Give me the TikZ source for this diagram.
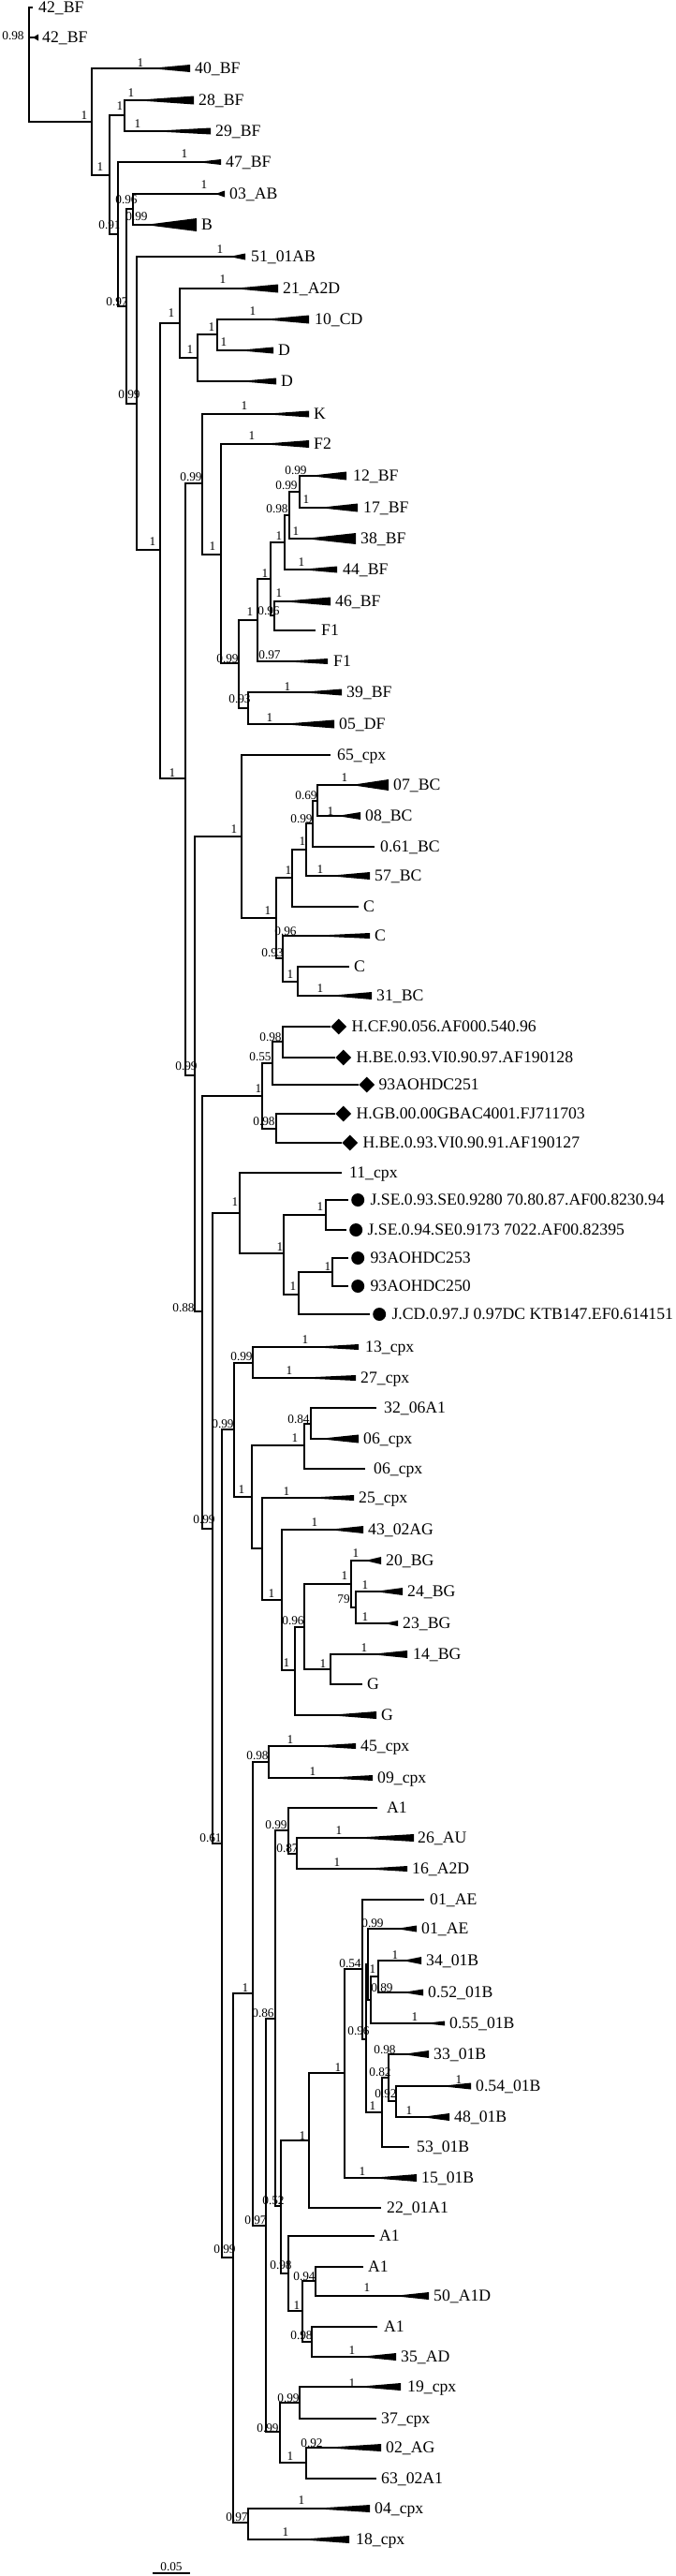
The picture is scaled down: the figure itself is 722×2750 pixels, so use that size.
\documentclass[tikz,border=0pt]{standalone}
\usepackage{fontspec}
\setmainfont{Liberation Serif}
\usetikzlibrary{positioning,shapes.geometric}
\tikzset{
  br/.style    ={line width=1.5pt},
  taxon/.style ={font=\fontsize{17.7}{18}\selectfont, inner sep=0pt,
                 text height=11.7pt, text depth=0pt},
  supp/.style  ={font=\fontsize{13.3}{14}\selectfont, inner sep=0pt,
                 text height=8.8pt, text depth=0pt},
  dmark/.style ={diamond, fill=black, inner sep=0pt,
                 minimum width=17pt, minimum height=17pt},
  cmark/.style ={circle, fill=black, inner sep=0pt, minimum size=14pt},
  pics/clade/.style 2 args={code={\fill (-#1,0) -- (0,-#2) -- (0,#2) -- cycle;}},
}

\begin{document}
\begin{tikzpicture}[x=1pt,y=-1pt,node distance=5pt]
  \useasboundingbox (0,0) rectangle (722,2750);
  %% internal nodes
  \coordinate (r)     at (31,69);
  \coordinate (n98)   at (98,130);
  \coordinate (n117)  at (117,187);
  \coordinate (n133)  at (133,123);
  \coordinate (n126)  at (126,250);
  \coordinate (n135)  at (135,327);
  \coordinate (n142)  at (142,223);
  \coordinate (n146)  at (146,431);
  \coordinate (n171)  at (171,587);
  \coordinate (n192)  at (192,345);
  \coordinate (n211)  at (211,382);
  \coordinate (n232)  at (232,357);
  \coordinate (n198)  at (198,831);
  \coordinate (n216)  at (216,516);
  \coordinate (n236)  at (236,592);
  \coordinate (n255)  at (255,708);
  \coordinate (n275)  at (275,662);
  \coordinate (n289)  at (289,618);
  \coordinate (n304)  at (304,579);
  \coordinate (n309)  at (309,550);
  \coordinate (n320)  at (320,525);
  \coordinate (n293)  at (293,657);
  \coordinate (n265)  at (265,756);
  \coordinate (n208)  at (208,1148);
  \coordinate (n258)  at (258,893);
  \coordinate (n295)  at (295,980);
  \coordinate (n312)  at (312,937);
  \coordinate (n327)  at (327,907);
  \coordinate (n334)  at (334,879);
  \coordinate (n339)  at (339,855);
  \coordinate (n302)  at (302,1023);
  \coordinate (n318)  at (318,1048);
  \coordinate (n215)  at (216,1400);
  \coordinate (n280)  at (280,1170);
  \coordinate (n291)  at (291,1135);
  \coordinate (n302b) at (302,1112);
  \coordinate (n295b) at (295,1205);
  \coordinate (n227)  at (227,1632);
  \coordinate (n256)  at (256,1295);
  \coordinate (n303)  at (303,1338);
  \coordinate (n348)  at (348,1297);
  \coordinate (n319)  at (319,1382);
  \coordinate (n355)  at (355,1358);
  \coordinate (n237)  at (237,1968);
  \coordinate (n250)  at (250,1526);
  \coordinate (n270)  at (270,1455);
  \coordinate (n269)  at (269,1598);
  \coordinate (n325)  at (325,1543);
  \coordinate (n332)  at (332,1520);
  \coordinate (n280c) at (280,1653);
  \coordinate (n301)  at (301,1708);
  \coordinate (n315)  at (315,1783);
  \coordinate (n325b) at (325,1737);
  \coordinate (n375)  at (375,1691);
  \coordinate (n380)  at (380,1716);
  \coordinate (n353)  at (353,1782);
  \coordinate (n249)  at (249,2410);
  \coordinate (n270b) at (270,2128);
  \coordinate (n287)  at (287,1881);
  \coordinate (n284)  at (284,2376);
  \coordinate (n294)  at (294,2155);
  \coordinate (n308)  at (308,1954);
  \coordinate (n317)  at (317,1979);
  \coordinate (n300)  at (300,2355);
  \coordinate (n330)  at (330,2285);
  \coordinate (n368)  at (368,2213);
  \coordinate (n387)  at (387,2102);
  \coordinate (n391)  at (391,2177);
  \coordinate (n393)  at (393,2097);
  \coordinate (n396)  at (396,2135);
  \coordinate (n404)  at (404,2110);
  \coordinate (n408)  at (408,2255);
  \coordinate (n415)  at (415,2218);
  \coordinate (n423)  at (423,2243);
  \coordinate (n308b) at (308,2427);
  \coordinate (n323)  at (323,2467);
  \coordinate (n337)  at (337,2435);
  \coordinate (n333)  at (333,2500);
  \coordinate (n299)  at (299,2596);
  \coordinate (n320c) at (320,2565);
  \coordinate (n327c) at (327,2629);
  \coordinate (n265c) at (265,2693);

  %% tips
  \coordinate (t1)  at (35,8);
  \coordinate (t2)  at (41,40);
  \coordinate (t3)  at (203,73);
  \coordinate (t4)  at (207,107);
  \coordinate (t5)  at (225,140);
  \coordinate (t6)  at (236,173);
  \coordinate (t7)  at (240,207);
  \coordinate (t8)  at (210,240);
  \coordinate (t9)  at (262,274);
  \coordinate (t10) at (297,308);
  \coordinate (t11) at (330,341);
  \coordinate (t12) at (292,374);
  \coordinate (t13) at (295,407);
  \coordinate (t14) at (330,442);
  \coordinate (t15) at (330,474);
  \coordinate (t16) at (370,508);
  \coordinate (t17) at (382,542);
  \coordinate (t18) at (380,575);
  \coordinate (t19) at (360,608);
  \coordinate (t20) at (353,642);
  \coordinate (t21) at (337,673);
  \coordinate (t22) at (350,706);
  \coordinate (t23) at (365,739);
  \coordinate (t24) at (357,773);
  \coordinate (t25) at (353,806);
  \coordinate (t26) at (415,838);
  \coordinate (t27) at (385,871);
  \coordinate (t28) at (400,904);
  \coordinate (t29) at (395,935);
  \coordinate (t30) at (383,968);
  \coordinate (t31) at (395,999);
  \coordinate (t32) at (373,1032);
  \coordinate (t33) at (397,1063);
  \coordinate (t34) at (353,1096);
  \coordinate (t35) at (358,1129);
  \coordinate (t36) at (383,1158);
  \coordinate (t37) at (358,1189);
  \coordinate (t38) at (365,1220);
  \coordinate (t39) at (365,1252);
  \coordinate (t40) at (372,1281);
  \coordinate (t41) at (370,1313);
  \coordinate (t42) at (372,1343);
  \coordinate (t43) at (372,1373);
  \coordinate (t44) at (395,1403);
  \coordinate (t45) at (383,1438);
  \coordinate (t46) at (380,1471);
  \coordinate (t47) at (402,1503);
  \coordinate (t48) at (383,1536);
  \coordinate (t49) at (390,1568);
  \coordinate (t50) at (378,1599);
  \coordinate (t51) at (388,1633);
  \coordinate (t52) at (407,1666);
  \coordinate (t53) at (430,1699);
  \coordinate (t54) at (425,1733);
  \coordinate (t55) at (435,1766);
  \coordinate (t56) at (387,1798);
  \coordinate (t57) at (402,1831);
  \coordinate (t58) at (380,1864);
  \coordinate (t59) at (398,1898);
  \coordinate (t60) at (403,1930);
  \coordinate (t61) at (442,1962);
  \coordinate (t62) at (435,1995);
  \coordinate (t63) at (453,2028);
  \coordinate (t64) at (445,2059);
  \coordinate (t65) at (450,2093);
  \coordinate (t66) at (452,2127);
  \coordinate (t67) at (475,2160);
  \coordinate (t68) at (458,2193);
  \coordinate (t69) at (503,2227);
  \coordinate (t70) at (480,2260);
  \coordinate (t71) at (437,2292);
  \coordinate (t72) at (445,2325);
  \coordinate (t73) at (407,2357);
  \coordinate (t74) at (400,2387);
  \coordinate (t75) at (388,2420);
  \coordinate (t76) at (458,2451);
  \coordinate (t77) at (403,2484);
  \coordinate (t78) at (423,2516);
  \coordinate (t79) at (428,2548);
  \coordinate (t80) at (402,2582);
  \coordinate (t81) at (407,2613);
  \coordinate (t82) at (402,2646);
  \coordinate (t83) at (395,2678);
  \coordinate (t84) at (373,2711);

  %% branches
  \draw[br] (r) |- (t1) (r) |- (t2) (r) |- (n98);
  \draw[br] (n98) |- (t3) (n98) |- (n117);
  \draw[br] (n117) |- (n133) (n117) |- (n126);
  \draw[br] (n133) |- (t4) (n133) |- (t5);
  \draw[br] (n126) |- (t6) (n126) |- (n135);
  \draw[br] (n135) |- (n142) (n135) |- (n146);
  \draw[br] (n142) |- (t7) (n142) |- (t8);
  \draw[br] (n146) |- (t9) (n146) |- (n171);
  \draw[br] (n171) |- (n192) (n171) |- (n198);
  \draw[br] (n192) |- (t10) (n192) |- (n211);
  \draw[br] (n211) |- (n232) (n211) |- (t13);
  \draw[br] (n232) |- (t11) (n232) |- (t12);
  \draw[br] (n198) |- (n216) (n198) |- (n208);
  \draw[br] (n216) |- (t14) (n216) |- (n236);
  \draw[br] (n236) |- (t15) (n236) |- (n255);
  \draw[br] (n255) |- (n275) (n255) |- (n265);
  \draw[br] (n275) |- (n289) (n275) |- (t22);
  \draw[br] (n289) |- (n304) (n289) |- (n293);
  \draw[br] (n304) |- (n309) (n304) |- (t19);
  \draw[br] (n309) |- (n320) (n309) |- (t18);
  \draw[br] (n320) |- (t16) (n320) |- (t17);
  \draw[br] (n293) |- (t20) (n293) |- (t21);
  \draw[br] (n265) |- (t23) (n265) |- (t24);
  \draw[br] (n208) |- (n258) (n208) |- (n215);
  \draw[br] (n258) |- (t25) (n258) |- (n295);
  \draw[br] (n295) |- (n312) (n295) |- (n302);
  \draw[br] (n312) |- (n327) (n312) |- (t30);
  \draw[br] (n327) |- (n334) (n327) |- (t29);
  \draw[br] (n334) |- (n339) (n334) |- (t28);
  \draw[br] (n339) |- (t26) (n339) |- (t27);
  \draw[br] (n302) |- (t31) (n302) |- (n318);
  \draw[br] (n318) |- (t32) (n318) |- (t33);
  \draw[br] (n215) |- (n280) (n215) |- (n227);
  \draw[br] (n280) |- (n291) (n280) |- (n295b);
  \draw[br] (n291) |- (n302b) (n291) |- (t36);
  \draw[br] (n302b) |- (t34) (n302b) |- (t35);
  \draw[br] (n295b) |- (t37) (n295b) |- (t38);
  \draw[br] (n227) |- (n256) (n227) |- (n237);
  \draw[br] (n256) |- (t39) (n256) |- (n303);
  \draw[br] (n303) |- (n348) (n303) |- (n319);
  \draw[br] (n348) |- (t40) (n348) |- (t41);
  \draw[br] (n319) |- (n355) (n319) |- (t44);
  \draw[br] (n355) |- (t42) (n355) |- (t43);
  \draw[br] (n237) |- (n250) (n237) |- (n249);
  \draw[br] (n250) |- (n270) (n250) |- (n269);
  \draw[br] (n270) |- (t45) (n270) |- (t46);
  \draw[br] (n269) |- (n325) (n269) |- (n280c);
  \draw[br] (n325) |- (n332) (n325) |- (t49);
  \draw[br] (n332) |- (t47) (n332) |- (t48);
  \draw[br] (n280c) |- (t50) (n280c) |- (n301);
  \draw[br] (n301) |- (t51) (n301) |- (n315);
  \draw[br] (n315) |- (n325b) (n315) |- (t57);
  \draw[br] (n325b) |- (n375) (n325b) |- (n353);
  \draw[br] (n375) |- (t52) (n375) |- (n380);
  \draw[br] (n380) |- (t53) (n380) |- (t54);
  \draw[br] (n353) |- (t55) (n353) |- (t56);
  \draw[br] (n249) |- (n270b) (n249) |- (n265c);
  \draw[br] (n270b) |- (n287) (n270b) |- (n284);
  \draw[br] (n287) |- (t58) (n287) |- (t59);
  \draw[br] (n284) |- (n294) (n284) |- (n299);
  \draw[br] (n294) |- (n308) (n294) |- (n300);
  \draw[br] (n308) |- (t60) (n308) |- (n317);
  \draw[br] (n317) |- (t61) (n317) |- (t62);
  \draw[br] (n300) |- (n330) (n300) |- (n308b);
  \draw[br] (n330) |- (n368) (n330) |- (t73);
  \draw[br] (n368) |- (n387) (n368) |- (t72);
  \draw[br] (n387) |- (t63) (n387) |- (n391);
  \draw[br] (n391) |- (n393) (n391) |- (n408);
  \draw[br] (n393) |- (t64) (n393) |- (n396);
  \draw[br] (n396) |- (n404) (n396) |- (t67);
  \draw[br] (n404) |- (t65) (n404) |- (t66);
  \draw[br] (n408) |- (n415) (n408) |- (t71);
  \draw[br] (n415) |- (t68) (n415) |- (n423);
  \draw[br] (n423) |- (t69) (n423) |- (t70);
  \draw[br] (n308b) |- (t74) (n308b) |- (n323);
  \draw[br] (n323) |- (n337) (n323) |- (n333);
  \draw[br] (n337) |- (t75) (n337) |- (t76);
  \draw[br] (n333) |- (t77) (n333) |- (t78);
  \draw[br] (n299) |- (n320c) (n299) |- (n327c);
  \draw[br] (n320c) |- (t79) (n320c) |- (t80);
  \draw[br] (n327c) |- (t81) (n327c) |- (t82);
  \draw[br] (n265c) |- (t83) (n265c) |- (t84);

  %% collapsed clades
  \pic at (t2)  {clade={6}{3.5}};
  \pic at (t3)  {clade={43}{4}};
  \pic at (t4)  {clade={64}{4.5}};
  \pic at (t5)  {clade={65}{3.5}};
  \pic at (t6)  {clade={26}{3}};
  \pic at (t7)  {clade={10}{3.5}};
  \pic at (t8)  {clade={55}{7}};
  \pic at (t9)  {clade={17}{3.5}};
  \pic at (t10) {clade={49}{4.5}};
  \pic at (t11) {clade={50}{4.5}};
  \pic at (t12) {clade={39}{3.5}};
  \pic at (t13) {clade={40}{3.5}};
  \pic at (t14) {clade={50}{3.5}};
  \pic at (t15) {clade={52}{4}};
  \pic at (t16) {clade={40}{4.5}};
  \pic at (t17) {clade={42}{4.5}};
  \pic at (t18) {clade={55}{6}};
  \pic at (t19) {clade={40}{3.5}};
  \pic at (t20) {clade={53}{4.5}};
  \pic at (t22) {clade={50}{3}};
  \pic at (t23) {clade={45}{3.5}};
  \pic at (t24) {clade={57}{4.5}};
  \pic at (t26) {clade={40}{6}};
  \pic at (t27) {clade={25}{4}};
  \pic at (t29) {clade={45}{4}};
  \pic at (t31) {clade={65}{3}};
  \pic at (t33) {clade={47}{4}};
  \pic at (t45) {clade={53}{3}};
  \pic at (t46) {clade={65}{3}};
  \pic at (t48) {clade={43}{4.5}};
  \pic at (t50) {clade={53}{3}};
  \pic at (t51) {clade={38}{4}};
  \pic at (t52) {clade={17}{4}};
  \pic at (t53) {clade={30}{4}};
  \pic at (t54) {clade={15}{3}};
  \pic at (t55) {clade={40}{4}};
  \pic at (t57) {clade={52}{4}};
  \pic at (t58) {clade={50}{3}};
  \pic at (t59) {clade={53}{3}};
  \pic at (t61) {clade={67}{4}};
  \pic at (t62) {clade={50}{3}};
  \pic at (t64) {clade={22}{3.5}};
  \pic at (t65) {clade={20}{4}};
  \pic at (t66) {clade={22}{3.5}};
  \pic at (t67) {clade={22}{2.5}};
  \pic at (t68) {clade={28}{4}};
  \pic at (t69) {clade={33}{3.5}};
  \pic at (t70) {clade={30}{4}};
  \pic at (t72) {clade={50}{4}};
  \pic at (t76) {clade={38}{4}};
  \pic at (t78) {clade={40}{4}};
  \pic at (t79) {clade={48}{4}};
  \pic at (t81) {clade={62}{4}};
  \pic at (t83) {clade={62}{4}};
  \pic at (t84) {clade={55}{4}};

  %% reference strains
  \node[dmark, right=0pt of t34] (m34) {};
  \node[dmark, right=0pt of t35] (m35) {};
  \node[dmark, right=0pt of t36] (m36) {};
  \node[dmark, right=0pt of t37] (m37) {};
  \node[dmark, right=0pt of t38] (m38) {};
  \node[cmark, right=3pt of t40] (m40) {};
  \node[cmark, right=3pt of t41] (m41) {};
  \node[cmark, right=3pt of t42] (m42) {};
  \node[cmark, right=3pt of t43] (m43) {};
  \node[cmark, right=3pt of t44] (m44) {};

  %% taxon labels
  \node[taxon, right=6pt of t1]  (l1)  {42\_BF};
  \node[taxon, right=4pt of t2]  (l2)  {42\_BF};
  \node[taxon, right=of t3]      (l3)  {40\_BF};
  \node[taxon, right=of t4]      (l4)  {28\_BF};
  \node[taxon, right=of t5]      (l5)  {29\_BF};
  \node[taxon, right=of t6]      (l6)  {47\_BF};
  \node[taxon, right=of t7]      (l7)  {03\_AB};
  \node[taxon, right=of t8]      (l8)  {B};
  \node[taxon, right=6pt of t9]  (l9)  {51\_01AB};
  \node[taxon, right=of t10]     (l10) {21\_A2D};
  \node[taxon, right=6pt of t11] (l11) {10\_CD};
  \node[taxon, right=of t12]     (l12) {D};
  \node[taxon, right=of t13]     (l13) {D};
  \node[taxon, right=of t14]     (l14) {K};
  \node[taxon, right=of t15]     (l15) {F2};
  \node[taxon, right=7pt of t16] (l16) {12\_BF};
  \node[taxon, right=6pt of t17] (l17) {17\_BF};
  \node[taxon, right=of t18]     (l18) {38\_BF};
  \node[taxon, right=6pt of t19] (l19) {44\_BF};
  \node[taxon, right=of t20]     (l20) {46\_BF};
  \node[taxon, right=6pt of t21] (l21) {F1};
  \node[taxon, right=6pt of t22] (l22) {F1};
  \node[taxon, right=of t23]     (l23) {39\_BF};
  \node[taxon, right=of t24]     (l24) {05\_DF};
  \node[taxon, right=7pt of t25] (l25) {65\_cpx};
  \node[taxon, right=of t26]     (l26) {07\_BC};
  \node[taxon, right=of t27]     (l27) {08\_BC};
  \node[taxon, right=6pt of t28] (l28) {0.61\_BC};
  \node[taxon, right=of t29]     (l29) {57\_BC};
  \node[taxon, right=of t30]     (l30) {C};
  \node[taxon, right=of t31]     (l31) {C};
  \node[taxon, right=of t32]     (l32) {C};
  \node[taxon, right=of t33]     (l33) {31\_BC};
  \node[taxon, right=5pt of m34] (l34) {H.CF.90.056.AF000.540.96};
  \node[taxon, right=5pt of m35] (l35) {H.BE.0.93.VI0.90.97.AF190128};
  \node[taxon, right=4pt of m36] (l36) {93AOHDC251};
  \node[taxon, right=5pt of m37] (l37) {H.GB.00.00GBAC4001.FJ711703};
  \node[taxon, right=5pt of m38] (l38) {H.BE.0.93.VI0.90.91.AF190127};
  \node[taxon, right=8pt of t39] (l39) {11\_cpx};
  \node[taxon, right=6pt of m40] (l40) {J.SE.0.93.SE0.9280 70.80.87.AF00.8230.94};
  \node[taxon, right=5pt of m41] (l41) {J.SE.0.94.SE0.9173 7022.AF00.82395};
  \node[taxon, right=6pt of m42] (l42) {93AOHDC253};
  \node[taxon, right=6pt of m43] (l43) {93AOHDC250};
  \node[taxon, right=6pt of m44] (l44) {J.CD.0.97.J 0.97DC KTB147.EF0.614151};
  \node[taxon, right=7pt of t45] (l45) {13\_cpx};
  \node[taxon, right=of t46]     (l46) {27\_cpx};
  \node[taxon, right=8pt of t47] (l47) {32\_06A1};
  \node[taxon, right=of t48]     (l48) {06\_cpx};
  \node[taxon, right=9pt of t49] (l49) {06\_cpx};
  \node[taxon, right=of t50]     (l50) {25\_cpx};
  \node[taxon, right=of t51]     (l51) {43\_02AG};
  \node[taxon, right=of t52]     (l52) {20\_BG};
  \node[taxon, right=of t53]     (l53) {24\_BG};
  \node[taxon, right=of t54]     (l54) {23\_BG};
  \node[taxon, right=6pt of t55] (l55) {14\_BG};
  \node[taxon, right=of t56]     (l56) {G};
  \node[taxon, right=of t57]     (l57) {G};
  \node[taxon, right=of t58]     (l58) {45\_cpx};
  \node[taxon, right=of t59]     (l59) {09\_cpx};
  \node[taxon, right=10pt of t60] (l60) {A1};
  \node[taxon, right=4pt of t61] (l61) {26\_AU};
  \node[taxon, right=of t62]     (l62) {16\_A2D};
  \node[taxon, right=6pt of t63] (l63) {01\_AE};
  \node[taxon, right=of t64]     (l64) {01\_AE};
  \node[taxon, right=of t65]     (l65) {34\_01B};
  \node[taxon, right=of t66]     (l66) {0.52\_01B};
  \node[taxon, right=of t67]     (l67) {0.55\_01B};
  \node[taxon, right=of t68]     (l68) {33\_01B};
  \node[taxon, right=of t69]     (l69) {0.54\_01B};
  \node[taxon, right=of t70]     (l70) {48\_01B};
  \node[taxon, right=8pt of t71] (l71) {53\_01B};
  \node[taxon, right=of t72]     (l72) {15\_01B};
  \node[taxon, right=6pt of t73] (l73) {22\_01A1};
  \node[taxon, right=of t74]     (l74) {A1};
  \node[taxon, right=of t75]     (l75) {A1};
  \node[taxon, right=of t76]     (l76) {50\_A1D};
  \node[taxon, right=7pt of t77] (l77) {A1};
  \node[taxon, right=of t78]     (l78) {35\_AD};
  \node[taxon, right=7pt of t79] (l79) {19\_cpx};
  \node[taxon, right=of t80]     (l80) {37\_cpx};
  \node[taxon, right=of t81]     (l81) {02\_AG};
  \node[taxon, right=of t82]     (l82) {63\_02A1};
  \node[taxon, right=of t83]     (l83) {04\_cpx};
  \node[taxon, right=7pt of t84] (l84) {18\_cpx};

  %% support values
  \node[supp] (s1)   at (14,38)    {0.98};
  \node[supp] (s2)   at (90,123)   {1};
  \node[supp] (s3)   at (150,67)   {1};
  \node[supp] (s4)   at (107,178)  {1};
  \node[supp] (s5)   at (128,113)  {1};
  \node[supp] (s6)   at (140,99)   {1};
  \node[supp] (s7)   at (147,132)  {1};
  \node[supp] (s8)   at (197,164)  {1};
  \node[supp] (s9)   at (218,197)  {1};
  \node[supp] (s10)  at (135,213)  {0.96};
  \node[supp] (s11)  at (146,231)  {0.99};
  \node[supp] (s12)  at (117,240)  {0.91};
  \node[supp] (s13)  at (125,322)  {0.97};
  \node[supp] (s14)  at (235,266)  {1};
  \node[supp] (s15)  at (138,421)  {0.99};
  \node[supp] (s16)  at (238,298)  {1};
  \node[supp] (s17)  at (183,334)  {1};
  \node[supp] (s18)  at (203,373)  {1};
  \node[supp] (s19)  at (226,349)  {1};
  \node[supp] (s20)  at (270,332)  {1};
  \node[supp] (s21)  at (239,365)  {1};
  \node[supp] (s22)  at (261,433)  {1};
  \node[supp] (s23)  at (269,465)  {1};
  \node[supp] (s24)  at (204,509)  {0.99};
  \node[supp] (s25)  at (163,578)  {1};
  \node[supp] (s26)  at (227,583)  {1};
  \node[supp] (s27)  at (316,502)  {0.99};
  \node[supp] (s28)  at (306,518)  {0.99};
  \node[supp] (s29)  at (327,533)  {1};
  \node[supp] (s30)  at (296,543)  {0.98};
  \node[supp] (s31)  at (316,567)  {1};
  \node[supp] (s32)  at (298,572)  {1};
  \node[supp] (s33)  at (322,600)  {1};
  \node[supp] (s34)  at (283,612)  {1};
  \node[supp] (s35)  at (298,633)  {1};
  \node[supp] (s36)  at (267,653)  {1};
  \node[supp] (s37)  at (287,652)  {0.96};
  \node[supp] (s38)  at (243,703)  {0.99};
  \node[supp] (s39)  at (288,699)  {0.97};
  \node[supp] (s40)  at (307,733)  {1};
  \node[supp] (s41)  at (256,746)  {0.93};
  \node[supp] (s42)  at (288,766)  {1};
  \node[supp] (s43)  at (184,825)  {1};
  \node[supp] (s44)  at (250,885)  {1};
  \node[supp] (s45)  at (368,830)  {1};
  \node[supp] (s46)  at (327,849)  {0.69};
  \node[supp] (s47)  at (353,866)  {1};
  \node[supp] (s48)  at (322,874)  {0.99};
  \node[supp] (s49)  at (323,898)  {1};
  \node[supp] (s50)  at (308,929)  {1};
  \node[supp] (s51)  at (342,928)  {1};
  \node[supp] (s52)  at (286,972)  {1};
  \node[supp] (s53)  at (305,994)  {0.96};
  \node[supp] (s54)  at (291,1017) {0.93};
  \node[supp] (s55)  at (310,1040) {1};
  \node[supp] (s56)  at (342,1055) {1};
  \node[supp] (s57)  at (289,1107) {0.98};
  \node[supp] (s58)  at (278,1128) {0.55};
  \node[supp] (s59)  at (199,1138) {0.99};
  \node[supp] (s60)  at (276,1162) {1};
  \node[supp] (s61)  at (282,1197) {0.98};
  \node[supp] (s62)  at (251,1283) {1};
  \node[supp] (s63)  at (342,1288) {1};
  \node[supp] (s64)  at (299,1331) {1};
  \node[supp] (s65)  at (350,1352) {1};
  \node[supp] (s66)  at (313,1373) {1};
  \node[supp] (s67)  at (196,1396) {0.88};
  \node[supp] (s68)  at (326,1430) {1};
  \node[supp] (s69)  at (258,1448) {0.99};
  \node[supp] (s70)  at (309,1463) {1};
  \node[supp] (s71)  at (238,1520) {0.99};
  \node[supp] (s72)  at (319,1515) {0.84};
  \node[supp] (s73)  at (315,1535) {1};
  \node[supp] (s74)  at (258,1590) {1};
  \node[supp] (s75)  at (306,1592) {1};
  \node[supp] (s76)  at (218,1622) {0.99};
  \node[supp] (s77)  at (336,1625) {1};
  \node[supp] (s78)  at (380,1658) {1};
  \node[supp] (s79)  at (368,1682) {1};
  \node[supp] (s80)  at (390,1692) {1};
  \node[supp] (s81)  at (290,1701) {1};
  \node[supp] (s82)  at (367,1707) {79};
  \node[supp] (s83)  at (390,1726) {1};
  \node[supp] (s84)  at (313,1730) {0.96};
  \node[supp] (s85)  at (389,1759) {1};
  \node[supp] (s86)  at (306,1775) {1};
  \node[supp] (s87)  at (345,1776) {1};
  \node[supp] (s88)  at (310,1857) {1};
  \node[supp] (s89)  at (275,1874) {0.98};
  \node[supp] (s90)  at (334,1891) {1};
  \node[supp] (s91)  at (295,1948) {0.99};
  \node[supp] (s92)  at (362,1954) {1};
  \node[supp] (s93)  at (225,1962) {0.61};
  \node[supp] (s94)  at (307,1973) {0.87};
  \node[supp] (s95)  at (360,1988) {1};
  \node[supp] (s96)  at (398,2053) {0.99};
  \node[supp] (s97)  at (422,2087) {1};
  \node[supp] (s98)  at (374,2096) {0.54};
  \node[supp] (s99)  at (398,2102) {1};
  \node[supp] (s100) at (262,2122) {1};
  \node[supp] (s101) at (408,2122) {0.89};
  \node[supp] (s102) at (281,2149) {0.86};
  \node[supp] (s103) at (443,2153) {1};
  \node[supp] (s104) at (383,2168) {0.96};
  \node[supp] (s105) at (411,2188) {0.98};
  \node[supp] (s106) at (361,2207) {1};
  \node[supp] (s107) at (406,2212) {0.82};
  \node[supp] (s108) at (490,2220) {1};
  \node[supp] (s109) at (412,2235) {0.92};
  \node[supp] (s110) at (398,2248) {1};
  \node[supp] (s111) at (437,2253) {1};
  \node[supp] (s112) at (323,2280) {1};
  \node[supp] (s113) at (387,2318) {1};
  \node[supp] (s114) at (292,2349) {0.52};
  \node[supp] (s115) at (273,2370) {0.97};
  \node[supp] (s116) at (240,2401) {0.99};
  \node[supp] (s117) at (300,2418) {0.98};
  \node[supp] (s118) at (325,2430) {0.94};
  \node[supp] (s119) at (392,2442) {1};
  \node[supp] (s120) at (317,2461) {1};
  \node[supp] (s121) at (322,2493) {0.98};
  \node[supp] (s122) at (376,2509) {1};
  \node[supp] (s123) at (376,2544) {1};
  \node[supp] (s124) at (308,2560) {0.99};
  \node[supp] (s125) at (286,2592) {0.99};
  \node[supp] (s126) at (333,2608) {0.92};
  \node[supp] (s127) at (310,2622) {1};
  \node[supp] (s128) at (322,2669) {1};
  \node[supp] (s129) at (253,2687) {0.97};
  \node[supp] (s130) at (305,2703) {1};

  %% scale bar
  \coordinate (sb1) at (163,2747);
  \coordinate (sb2) at (203,2747);
  \draw[line width=1.2pt] (sb1) -- node[supp, above=2pt] (sbl) {0.05} (sb2);
\end{tikzpicture}
\end{document}
